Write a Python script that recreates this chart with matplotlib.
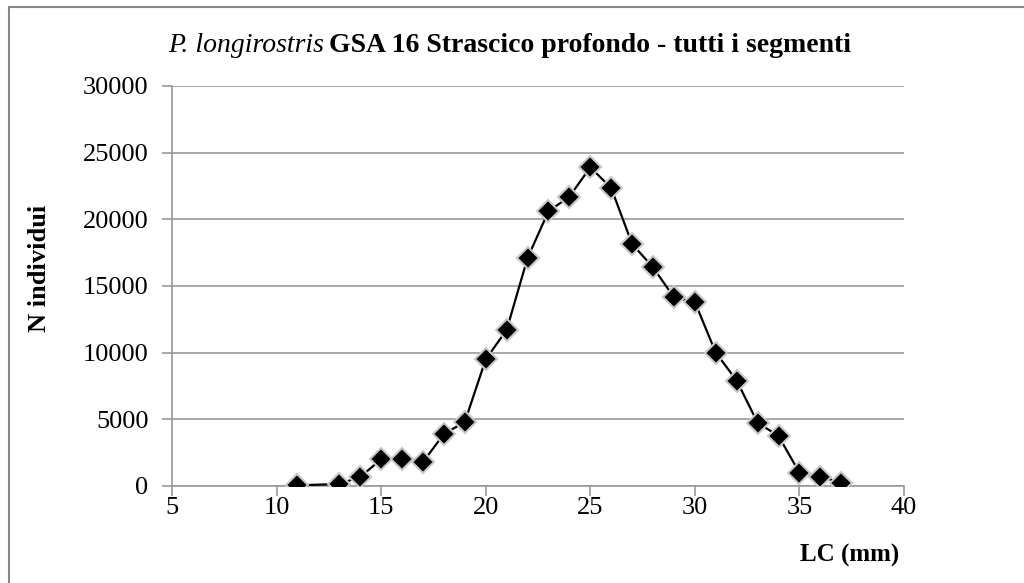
import matplotlib.pyplot as plt
from matplotlib.patches import Rectangle

lc = [11, 13, 14, 15, 16, 17, 18, 19, 20, 21, 22, 23, 24, 25, 26, 27, 28, 29, 30,
      31, 32, 33, 34, 35, 36, 37]
n_ind = [50, 150, 680, 2000, 2000, 1800, 3900, 4800, 9500, 11700, 17100, 20600,
         21700, 23900, 22350, 18150, 16400, 14150, 13800, 10000, 7900, 4750, 3750,
         1000, 700, 250]
x_ticks = [5, 10, 15, 20, 25, 30, 35, 40]
y_ticks = [0, 5000, 10000, 15000, 20000, 25000, 30000]

plt.rcParams['font.family'] = ['Liberation Serif', 'DejaVu Serif']

fig = plt.figure(figsize=(10.24, 5.83), dpi=100)
fig.patches.append(Rectangle((8.5 / 1024, -0.1), 1.2, 1.1 - 7.5 / 583,
                             transform=fig.transFigure, fill=False,
                             edgecolor='#888888', lw=1.5))

ax = fig.add_axes([172 / 1024, 97 / 583, 732 / 1024, 400 / 583])
ax.plot(lc, n_ind, color='black', lw=1.6, marker='D', markersize=11,
        markerfacecolor='black', markeredgecolor='#c8c8c8', markeredgewidth=1.5,
        zorder=3)

ax.set_xlim(5, 40)
ax.set_ylim(0, 30000)
ax.set_xticks(x_ticks)
ax.set_yticks(y_ticks)
ax.grid(axis='y', color='#999999', lw=1.2)
ax.set_axisbelow(True)
for s in ['top', 'right']:
    ax.spines[s].set_visible(False)
for s in ['left', 'bottom']:
    ax.spines[s].set_color('#999999')
    ax.spines[s].set_linewidth(1.2)
ax.tick_params(axis='both', colors='#999999', labelcolor='black', length=7,
               width=1.2, labelsize=19)
ax.tick_params(axis='y', pad=10)
ax.tick_params(axis='x', pad=1)

# title: italic species name followed by bold text
ty = 1 - 45 / 583
t1 = fig.text(168 / 1024, ty, 'P. longirostris', fontstyle='italic',
              fontsize=20, ha='left', va='center')
fig.canvas.draw()
x_end = t1.get_window_extent().x1 / 1024
fig.text(x_end + 5 / 1024, ty, 'GSA 16 Strascico profondo - tutti i segmenti',
         fontweight='bold', fontsize=20, ha='left', va='center')

fig.text(40 / 1024, 1 - 268 / 583, 'N individui', rotation=90, fontweight='bold',
         fontsize=19, ha='center', va='center')
fig.text(899 / 1024, 1 - 555 / 583, 'LC (mm)', fontweight='bold', fontsize=18,
         ha='right', va='center')

fig.savefig('out.png', dpi=100)
